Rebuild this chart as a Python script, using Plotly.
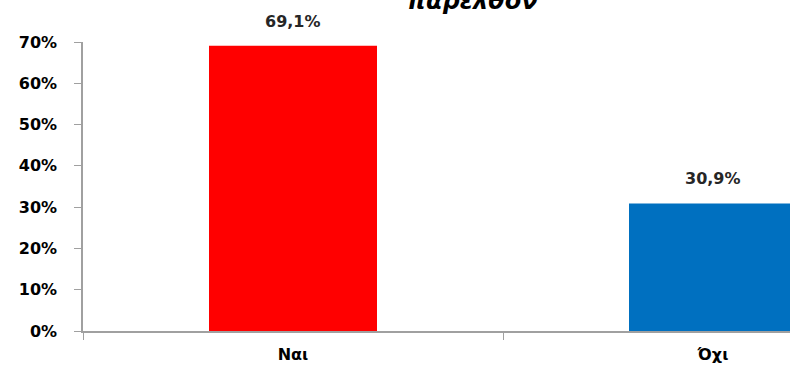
import plotly.graph_objects as go

categories = ["Ναι", "Όχι"]
values = [0.691, 0.309]
labels = ["69,1%", "30,9%"]
colors = ["#FF0000", "#0070C0"]
y_ticks = [0, 0.1, 0.2, 0.3, 0.4, 0.5, 0.6, 0.7]
y_ticktext = ["0%", "10%", "20%", "30%", "40%", "50%", "60%", "70%"]
title_text = "παρελθόν"

FONT = "DejaVu Sans"

fig = go.Figure()
fig.add_trace(go.Bar(
    x=categories, y=values, width=0.4,
    marker=dict(color=colors, line=dict(width=0)),
    hoverinfo="skip",
))

for c, v, t in zip(categories, values, labels):
    fig.add_annotation(x=c, y=v, text=t, showarrow=False, yanchor="bottom",
                       yshift=13, font=dict(family=FONT, size=16, color="#262626", weight="bold"))

fig.add_annotation(xref="paper", yref="paper", x=(472 - 83) / 707, y=1 + 25 / 289,
                   text="<i>" + title_text + "</i>", showarrow=False, yanchor="bottom",
                   xanchor="center",
                   font=dict(family=FONT, size=24, color="#000000", weight="bold"))

fig.update_layout(
    width=790, height=367,
    margin=dict(l=83, r=0, t=42, b=36, autoexpand=False),
    plot_bgcolor="white", paper_bgcolor="white",
    showlegend=False,
)
fig.update_xaxes(
    type="category",
    range=[-0.5, -0.5 + 707 / 420],
    tickson="boundaries", ticks="outside", ticklen=7, tickcolor="#a0a0a0",
    showline=True, linecolor="#a0a0a0", linewidth=1.5,
    showgrid=False, zeroline=False,
    tickfont=dict(family=FONT, size=16, color="#000000", weight="bold"),
    ticklabelstandoff=8, automargin=False,
)
fig.update_yaxes(
    range=[0, 0.7],
    tickmode="array", tickvals=y_ticks, ticktext=y_ticktext,
    ticks="outside", ticklen=7, tickcolor="#a0a0a0",
    showline=True, linecolor="#a0a0a0", linewidth=1.5,
    showgrid=False, zeroline=False,
    tickfont=dict(family=FONT, size=16, color="#000000", weight="bold"),
    ticklabelstandoff=14, automargin=False,
)

fig.write_html("out.html")
